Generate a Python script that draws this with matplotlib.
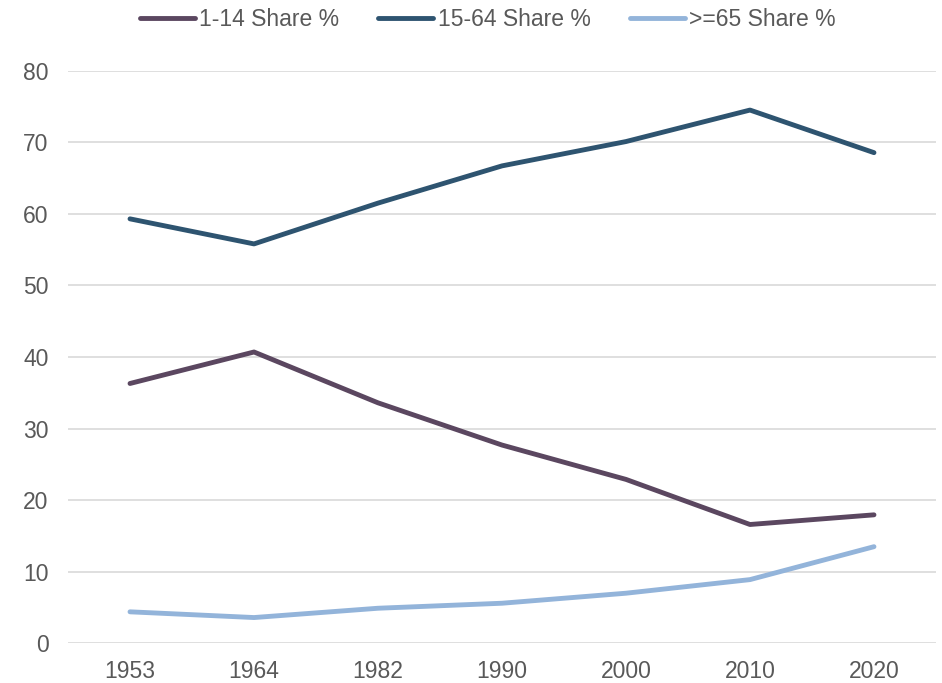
import matplotlib.pyplot as plt

plt.rcParams["font.family"] = ["Liberation Sans", "DejaVu Sans"]

years = ["1953", "1964", "1982", "1990", "2000", "2010", "2020"]
share_1_14 = [36.3, 40.7, 33.6, 27.7, 22.9, 16.6, 17.95]
share_15_64 = [59.3, 55.8, 61.5, 66.7, 70.1, 74.5, 68.55]
share_65 = [4.4, 3.6, 4.9, 5.6, 7.0, 8.9, 13.5]

series = [
    ("1-14 Share %", share_1_14, "#5b4760"),
    ("15-64 Share %", share_15_64, "#2e5470"),
    (">=65 Share %", share_65, "#93b4da"),
]

text_color = "#595959"

fig = plt.figure(figsize=(9.42, 6.83), dpi=100)
ax = fig.add_axes([0.0722, 0.0581, 0.9214, 0.8384])

x = range(len(years))
for label, vals, color in series:
    ax.plot(x, vals, color=color, linewidth=3.5, label=label,
            solid_capstyle="round", solid_joinstyle="round")

ax.set_xlim(-0.5, len(years) - 0.5)
ax.set_ylim(0, 80)
ax.set_yticks(range(0, 81, 10))
ax.set_xticks(list(x))
ax.set_xticklabels(years)
ax.grid(axis="y", color="#d9d9d9", linewidth=1.2)
ax.set_axisbelow(True)
for s in ax.spines.values():
    s.set_visible(False)
ax.tick_params(length=0, labelsize=16.5, colors=text_color)
ax.tick_params(axis="x", pad=12)
ax.tick_params(axis="y", pad=14)

leg = fig.legend(loc="center", bbox_to_anchor=(0.518, 1 - 20 / 683), ncol=3,
                 frameon=False, fontsize=16.5, handlelength=2.4,
                 handletextpad=0.2, columnspacing=1.7)
for t in leg.get_texts():
    t.set_color(text_color)

fig.savefig("out.png", dpi=100)
